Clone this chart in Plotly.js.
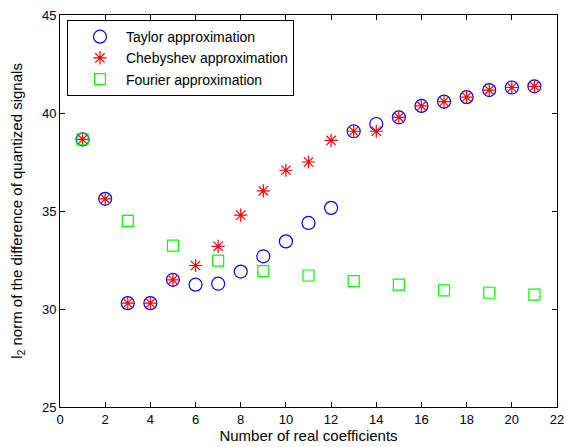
<!DOCTYPE html>
<html>
<head>
<meta charset="utf-8">
<script src="https://cdn.plot.ly/plotly-3.0.1.min.js"></script>
<style>html,body{margin:0;padding:0;background:#fff;}#chart{width:567px;height:447px;}</style>
</head>
<body>
<div id="chart"></div>
<script>
const taylorX = [1,2,3,4,5,6,7,8,9,10,11,12,13,14,15,16,17,18,19,20,21];
const taylorY = [38.65,35.62,30.30,30.30,31.49,31.24,31.29,31.91,32.69,33.45,34.39,35.16,39.07,39.44,39.78,40.36,40.58,40.81,41.17,41.30,41.36];
const chebX = [1,2,3,4,5,6,7,8,9,10,11,12,13,14,15,16,17,18,19,20,21];
const chebY = [38.65,35.62,30.30,30.30,31.49,32.22,33.20,34.79,36.03,37.08,37.50,38.60,39.07,39.07,39.78,40.36,40.58,40.81,41.17,41.30,41.36];
const fourierX = [1,3,5,7,9,11,13,15,17,19,21];
const fourierY = [38.65,34.50,33.23,32.47,31.93,31.71,31.42,31.24,30.95,30.83,30.73];
const seriesNames = ['Taylor approximation','Chebyshev approximation','Fourier approximation'];
const xTicks = [0,2,4,6,8,10,12,14,16,18,20,22];
const yTicks = [25,30,35,40,45];

const font = 'Arial, "Liberation Sans", sans-serif';
const traces = [
  {x: taylorX, y: taylorY, name: seriesNames[0], type: 'scatter', mode: 'markers',
   marker: {symbol: 'circle-open', size: 13, color: '#0000ff', line: {width: 1.2}}},
  {x: chebX, y: chebY, name: seriesNames[1], type: 'scatter', mode: 'markers',
   marker: {symbol: 'asterisk-open', size: 11, color: '#ff0000', line: {width: 1.2, color: '#ff0000'}}},
  {x: fourierX, y: fourierY, name: seriesNames[2], type: 'scatter', mode: 'markers',
   marker: {symbol: 'square-open', size: 11, color: '#00ff00', line: {width: 1.2}}}
];
const axisCommon = {
  showgrid: false, zeroline: false, showline: true, linecolor: '#000', linewidth: 1,
  mirror: 'ticks', ticks: 'inside', ticklen: 5, tickcolor: '#000', tickwidth: 1,
  tickfont: {family: font, size: 13, color: '#000'}
};
const layout = {
  width: 567, height: 447,
  margin: {l: 60, r: 10, t: 15, b: 40},
  paper_bgcolor: '#fff', plot_bgcolor: '#fff',
  showlegend: true,
  legend: {x: 0.014, y: 0.987, xanchor: 'left', yanchor: 'top',
    bordercolor: '#000', borderwidth: 1, bgcolor: '#fff',
    font: {family: font, size: 14, color: '#000'}, itemwidth: 42, indentation: 6},
  xaxis: Object.assign({}, axisCommon, {range: [0, 22], tickvals: xTicks, ticktext: xTicks.map(String),
    title: {text: 'Number of real coefficients', font: {family: font, size: 15, color: '#000'}, standoff: 4}}),
  yaxis: Object.assign({}, axisCommon, {range: [25, 45], tickvals: yTicks, ticktext: yTicks.map(String),
    title: {text: 'l<sub>2</sub> norm of the difference of quantized signals', font: {family: font, size: 15, color: '#000'}, standoff: 15}})
};
Plotly.newPlot('chart', traces, layout, {staticPlot: true, displayModeBar: false});
</script>
</body>
</html>
